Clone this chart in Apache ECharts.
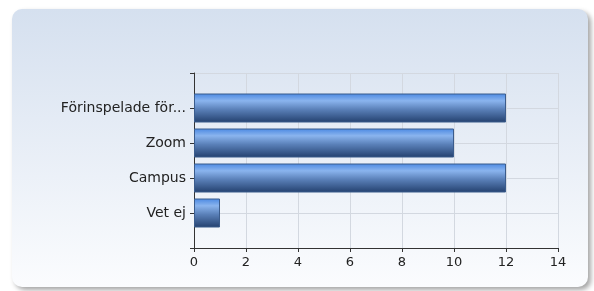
<!DOCTYPE html>
<html lang="sv">
<head>
  <meta charset="UTF-8">
  <title>Svar</title>
  <script src="https://cdn.jsdelivr.net/npm/echarts@6/dist/echarts.min.js"></script>
  <style>
    html, body { margin: 0; padding: 0; background: #fff; }
  </style>
</head>
<body>
  <div id="main" style="width: 594px;height: 291px;"></div>
  <script>
    const chart = echarts.init(document.getElementById('main'))

    const categories = ['Förinspelade för...', 'Zoom', 'Campus', 'Vet ej']
    const values = [12, 10, 12, 1]
    const xTicks = [0, 2, 4, 6, 8, 10, 12, 14]

    // tomma platser ovanför och under, så axeln sticker ut som i originalet
    const yData = [''].concat(categories, [''])
    const barData = ['-'].concat(values, ['-'])

    const barColor = new echarts.graphic.LinearGradient(0, 0, 0, 1, [
      { offset: 0, color: '#4a88e2' },
      { offset: 0.25, color: '#8ab4ee' },
      { offset: 0.55, color: '#5a80b8' },
      { offset: 1, color: '#23406e' }
    ])

    const option = {
      animation: false,
      textStyle: { fontFamily: 'DejaVu Sans' },
      graphic: [
        {
          type: 'rect',
          shape: { x: 12, y: 9, width: 576, height: 278, r: 10 },
          style: {
            fill: new echarts.graphic.LinearGradient(0, 0, 0, 1, [
              { offset: 0, color: '#d5e0ef' },
              { offset: 1, color: '#fbfcfe' }
            ]),
            shadowBlur: 5,
            shadowOffsetX: 3,
            shadowOffsetY: 3,
            shadowColor: 'rgba(0,0,0,0.35)'
          },
          z: -10
        }
      ],
      grid: { left: 194, right: 36, top: 73, bottom: 43, containLabel: false },
      xAxis: {
        type: 'value',
        min: xTicks[0],
        max: xTicks[xTicks.length - 1],
        interval: 2,
        axisLine: { show: true, lineStyle: { color: '#333' } },
        axisTick: { show: true, length: 4, lineStyle: { color: '#333' } },
        axisLabel: { color: '#222', fontSize: 13, margin: 8 },
        splitLine: { show: true, lineStyle: { color: '#d3d8e0' } }
      },
      yAxis: {
        type: 'category',
        data: yData,
        inverse: true,
        boundaryGap: false,
        axisLine: { show: true, lineStyle: { color: '#333' } },
        axisTick: { show: true, length: 4, lineStyle: { color: '#333' } },
        axisLabel: { color: '#222', fontSize: 14, margin: 8 },
        splitLine: { show: true, lineStyle: { color: '#d3d8e0' } }
      },
      series: [
        {
          type: 'bar',
          data: barData,
          barWidth: 29,
          itemStyle: {
            color: barColor,
            borderColor: '#3b5c8c',
            borderWidth: 1
          }
        }
      ]
    }

    chart.setOption(option)
  </script>
</body>
</html>
